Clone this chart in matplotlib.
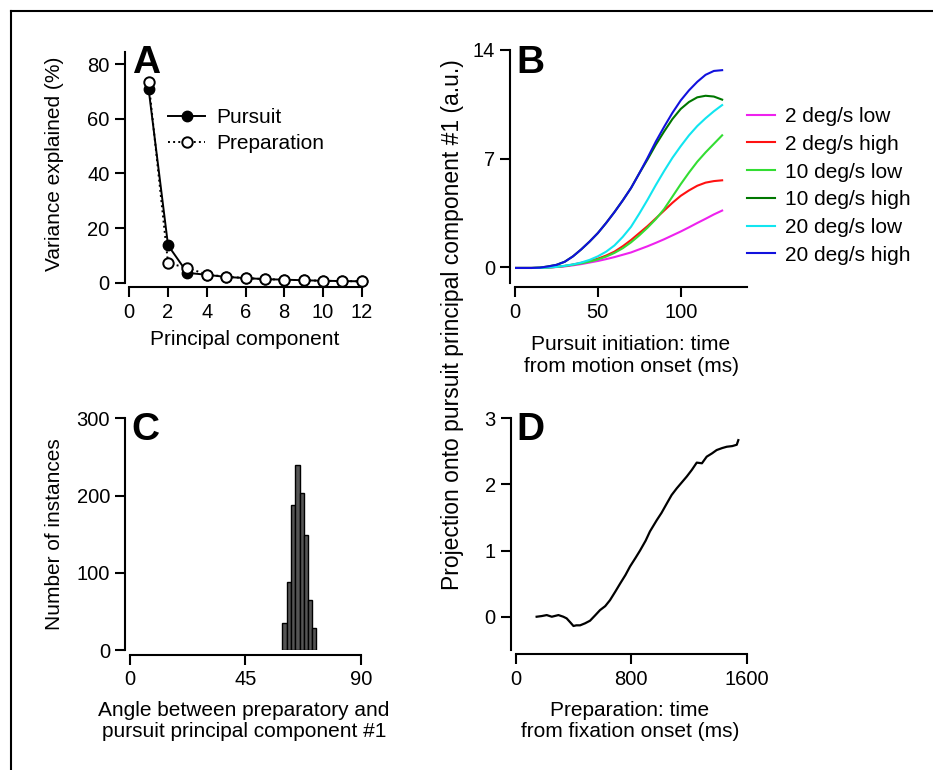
import numpy as np
import matplotlib
matplotlib.use("Agg")
import matplotlib.pyplot as plt
from matplotlib.lines import Line2D

plt.rcParams['font.family'] = ['Liberation Sans', 'DejaVu Sans']
LBL = 15
TCK = 14.5

# ---------------- data ----------------
# Panel A
components = [1, 2, 3, 4, 5, 6, 7, 8, 9, 10, 11, 12]
var_pursuit = [70.8, 13.7, 3.6, 2.9, 2.1, 1.7, 1.3, 1.1, 0.9, 0.7, 0.6, 0.5]
var_prep = [73.4, 7.2, 5.4, 3.0, 2.2, 1.7, 1.3, 1.1, 0.9, 0.7, 0.6, 0.5]

# Panel B
t_init = [0, 5, 10, 15, 20, 25, 30, 35, 40, 45, 50, 55, 60, 65, 70, 75, 80,
          85, 90, 95, 100, 105, 110, 115, 120, 125]
proj_2low = [-0.05, -0.05, -0.05, -0.04, -0.02, 0.01, 0.05, 0.12, 0.2, 0.3,
             0.4, 0.52, 0.65, 0.8, 0.95, 1.15, 1.35, 1.57, 1.8, 2.05, 2.3,
             2.57, 2.85, 3.12, 3.4, 3.65]
proj_2high = [-0.05, -0.05, -0.05, -0.04, -0.02, 0.02, 0.08, 0.17, 0.28, 0.4,
              0.55, 0.75, 1.0, 1.35, 1.75, 2.2, 2.65, 3.15, 3.65, 4.15, 4.6,
              4.95, 5.25, 5.45, 5.55, 5.6]
proj_10low = [-0.05, -0.05, -0.05, -0.04, -0.02, 0.02, 0.08, 0.16, 0.25, 0.36,
              0.5, 0.68, 0.92, 1.22, 1.6, 2.05, 2.55, 3.1, 3.75, 4.55, 5.35,
              6.1, 6.8, 7.4, 7.95, 8.5]
proj_10high = [-0.05, -0.05, -0.05, -0.03, 0.05, 0.15, 0.35, 0.7, 1.15, 1.65,
               2.2, 2.85, 3.55, 4.3, 5.1, 6.05, 6.95, 7.9, 8.75, 9.55, 10.2,
               10.65, 10.95, 11.05, 11.0, 10.8]
proj_20low = [-0.05, -0.05, -0.05, -0.04, -0.02, 0.02, 0.09, 0.18, 0.3, 0.47,
              0.7, 1.0, 1.4, 1.95, 2.6, 3.45, 4.35, 5.3, 6.2, 7.05, 7.8, 8.5,
              9.1, 9.6, 10.05, 10.45]
proj_20high = [-0.05, -0.05, -0.05, -0.03, 0.05, 0.15, 0.35, 0.7, 1.15, 1.65,
               2.2, 2.85, 3.55, 4.3, 5.1, 6.05, 7.05, 8.1, 9.05, 9.95, 10.75,
               11.4, 11.95, 12.4, 12.65, 12.7]
cond_labels = ['2 deg/s low', '2 deg/s high', '10 deg/s low',
               '10 deg/s high', '20 deg/s low', '20 deg/s high']
cond_colors = ['#ee22ee', '#ff1111', '#33dd33', '#007700', '#11e5f0', '#1111dd']

# Panel C
angle_centers = [60.3, 62.0, 63.6, 65.3, 67.0, 68.6, 70.3, 71.9]
angle_counts = [35, 88, 188, 240, 203, 149, 65, 29]
angle_width = 1.67

# Panel D
t_prep = [145, 180, 215, 250, 296, 330, 353, 380, 400, 420, 446, 480, 515,
          550, 584, 620, 653, 690, 723, 760, 792, 830, 861, 900, 930, 977,
          1010, 1046, 1080, 1115, 1150, 1185, 1220, 1254, 1290, 1323, 1360,
          1392, 1430, 1462, 1500, 1531, 1542]
proj_prep = [0.0, 0.01, 0.025, 0.0, 0.025, 0.0, -0.025, -0.09, -0.14, -0.13,
             -0.13, -0.1, -0.06, 0.02, 0.1, 0.16, 0.25, 0.38, 0.5, 0.63, 0.76,
             0.89, 1.0, 1.15, 1.29, 1.46, 1.57, 1.71, 1.84, 1.94, 2.03, 2.12,
             2.22, 2.33, 2.32, 2.42, 2.47, 2.52, 2.55, 2.57, 2.58, 2.6, 2.67]

# ---------------- figure ----------------
W, H = 933, 770
fig = plt.figure(figsize=(W / 100, H / 100), dpi=100)


def px_axes(x0, x1, ytop, ybot):
    return fig.add_axes([x0 / W, 1 - ybot / H, (x1 - x0) / W, (ybot - ytop) / H])


def fx(x):
    return x / W


def fy(y):
    return 1 - y / H


def style(ax):
    for s in ['top', 'right']:
        ax.spines[s].set_visible(False)
    for s in ['left', 'bottom']:
        ax.spines[s].set_linewidth(1.5)
        ax.spines[s].set_position(('outward', 3.3))
    ax.tick_params(direction='out', length=7, width=1.5, labelsize=TCK, pad=4)
    ax.patch.set_alpha(0)


# Panel A
axA = px_axes(129.3, 361.7, 51.7, 282.7)
style(axA)
axA.plot(components, var_pursuit, '-', color='black', lw=1.4, marker='o',
         ms=7.5, mfc='black', mec='black', clip_on=False, zorder=3, label='Pursuit')
axA.plot(components, var_prep, ':', color='black', lw=1.4, marker='o',
         ms=7.5, mfc='white', mec='black', mew=1.4, clip_on=False, zorder=4,
         label='Preparation')
axA.set_xlim(0, 12)
axA.set_ylim(0, 84.6)
axA.set_xticks([0, 2, 4, 6, 8, 10, 12])
axA.set_yticks([0, 20, 40, 60, 80])
axA.legend(loc='upper left', bbox_to_anchor=(fx(168), fy(108)),
           bbox_transform=fig.transFigure,
           frameon=False, handlelength=1.78, handletextpad=0.53,
           labelspacing=0.33, borderpad=0, borderaxespad=0, fontsize=LBL)

# Panel B
axB = px_axes(515, 747, 50, 282.7)
style(axB)
for ys, c, lab in zip([proj_2low, proj_2high, proj_10low, proj_10high, proj_20low, proj_20high],
                      cond_colors, cond_labels):
    axB.plot(t_init, ys, '-', color=c, lw=1.5, label=lab)
axB.set_xlim(0, 140)
axB.set_ylim(-1, 14)
axB.set_xticks([0, 50, 100])
axB.set_yticks([0, 7, 14])
axB.legend(loc='upper left', bbox_to_anchor=(fx(746.7), fy(107)),
           bbox_transform=fig.transFigure, frameon=False,
           handlelength=1.35, handletextpad=0.5, labelspacing=0.42,
           borderpad=0, borderaxespad=0, fontsize=LBL)

# Panel C
axC = px_axes(130, 360.7, 418.3, 650)
style(axC)
axC.bar(angle_centers, angle_counts, width=angle_width, color='#555555',
        edgecolor='black', linewidth=1.0)
axC.set_xlim(0, 90)
axC.set_ylim(0, 300)
axC.set_xticks([0, 45, 90])
axC.set_yticks([0, 100, 200, 300])

# Panel D
axD = px_axes(515.7, 746.7, 418.3, 649.8)
style(axD)
axD.plot(t_prep, proj_prep, '-', color='black', lw=1.6)
axD.set_xlim(0, 1600)
axD.set_ylim(-0.5, 3)
axD.set_xticks([0, 800, 1600])
axD.set_yticks([0, 1, 2, 3])

# axis labels (placed in figure pixels)
fig.text(fx(245), fy(340), 'Principal component', ha='center', va='center', fontsize=LBL)
fig.text(fx(631), fy(355), 'Pursuit initiation: time\nfrom motion onset (ms)',
         ha='center', va='center', fontsize=LBL, linespacing=1.2)
fig.text(fx(244), fy(721), 'Angle between preparatory and\npursuit principal component #1',
         ha='center', va='center', fontsize=LBL, linespacing=1.1)
fig.text(fx(630), fy(721), 'Preparation: time\nfrom fixation onset (ms)',
         ha='center', va='center', fontsize=LBL, linespacing=1.1)
fig.text(fx(55), fy(164), 'Variance explained (%)', rotation=90,
         ha='center', va='center', fontsize=LBL)
fig.text(fx(55), fy(534), 'Number of instances', rotation=90,
         ha='center', va='center', fontsize=LBL)
fig.text(fx(452), fy(325),
         'Projection onto pursuit principal component #1 (a.u.)',
         rotation=90, ha='center', va='center', fontsize=16.5)

# panel letters
for (x, y, s) in [(132.3, 73.3, 'A'), (516, 73.3, 'B'), (131.7, 440, 'C'), (516.7, 440, 'D')]:
    fig.text(fx(x), fy(y), s, fontsize=28, fontweight='bold',
             ha='left', va='baseline')

# outer frame lines (top and left)
fig.add_artist(Line2D([fx(11), 1.0], [fy(11), fy(11)],
                      transform=fig.transFigure, color='black', lw=1.5))
fig.add_artist(Line2D([fx(11), fx(11)], [0, fy(11)],
                      transform=fig.transFigure, color='black', lw=1.5))

fig.savefig('out.png', dpi=100)
